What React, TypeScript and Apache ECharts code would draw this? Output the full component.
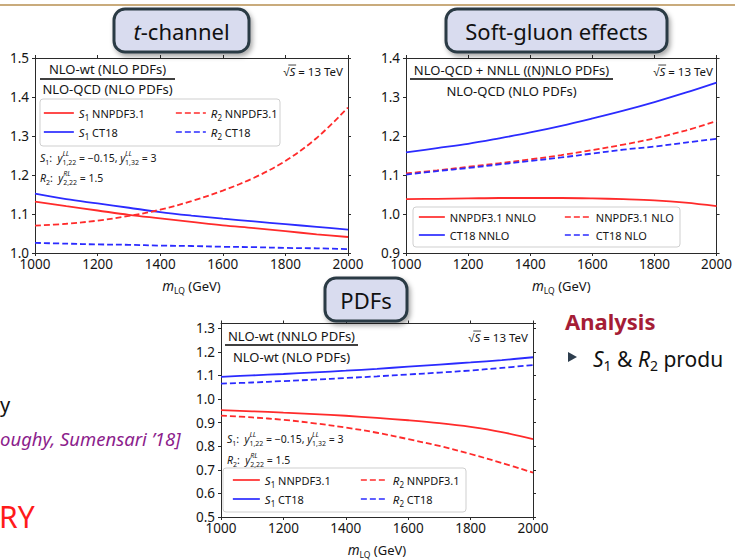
import React, { useEffect, useRef } from 'react';
import * as echarts from 'echarts';

// ---------------- data ----------------
const massGeV = [1000, 1100, 1200, 1300, 1400, 1500, 1600, 1700, 1800, 1900, 2000];
const xTickLabels = [1000, 1200, 1400, 1600, 1800, 2000];

// t-channel : NLO-wt (NLO PDFs) / NLO-QCD (NLO PDFs)
const tS1NNPDF = [1.132, 1.120, 1.109, 1.098, 1.089, 1.080, 1.071, 1.064, 1.056, 1.048, 1.041];
const tS1CT18 = [1.152, 1.138, 1.127, 1.116, 1.105, 1.096, 1.088, 1.081, 1.074, 1.067, 1.060];
const tR2NNPDF = [1.070, 1.075, 1.083, 1.095, 1.111, 1.133, 1.160, 1.193, 1.236, 1.295, 1.373];
const tR2CT18 = [1.026, 1.024, 1.022, 1.021, 1.019, 1.018, 1.016, 1.015, 1.013, 1.012, 1.010];

// soft-gluon : NLO-QCD + NNLL ((N)NLO PDFs) / NLO-QCD (NLO PDFs)
const sgNNPDFNNLO = [1.038, 1.039, 1.040, 1.041, 1.041, 1.041, 1.040, 1.038, 1.035, 1.029, 1.020];
const sgCT18NNLO = [1.158, 1.169, 1.180, 1.194, 1.209, 1.226, 1.245, 1.265, 1.287, 1.311, 1.337];
const sgNNPDFNLO = [1.104, 1.112, 1.121, 1.130, 1.140, 1.151, 1.164, 1.178, 1.194, 1.214, 1.238];
const sgCT18NLO = [1.101, 1.110, 1.118, 1.127, 1.136, 1.145, 1.155, 1.165, 1.173, 1.183, 1.193];

// PDFs : NLO-wt (NNLO PDFs) / NLO-wt (NLO PDFs)
const pS1NNPDF = [0.953, 0.948, 0.942, 0.936, 0.929, 0.920, 0.910, 0.898, 0.882, 0.860, 0.830];
const pS1CT18 = [1.094, 1.100, 1.106, 1.113, 1.120, 1.128, 1.137, 1.146, 1.155, 1.165, 1.177];
const pR2NNPDF = [0.930, 0.922, 0.912, 0.897, 0.879, 0.857, 0.830, 0.801, 0.767, 0.729, 0.688];
const pR2CT18 = [1.065, 1.070, 1.076, 1.082, 1.089, 1.096, 1.104, 1.112, 1.121, 1.132, 1.144];

const panelTitles = ['t-channel', 'Soft-gluon effects', 'PDFs'];
const yRanges = [
  { min: 1.0, max: 1.5 },
  { min: 0.9, max: 1.4 },
  { min: 0.5, max: 1.32 },
];

// ---------------- style ----------------
const FONT = '"Noto Sans", sans-serif';
const RED = '#ff2b2b';
const BLUE = '#2b2bff';
const INK = '#151515';
const DASH = [6, 3];

const legendLabels: Record<string, string> = {
  t_s1n: '{i|S}{s|1} NNPDF3.1',
  t_s1c: '{i|S}{s|1} CT18',
  t_r2n: '{i|R}{s|2} NNPDF3.1',
  t_r2c: '{i|R}{s|2} CT18',
  g_nn: 'NNPDF3.1 NNLO',
  g_cn: 'CT18 NNLO',
  g_nl: 'NNPDF3.1 NLO',
  g_cl: 'CT18 NLO',
  p_s1n: '{i|S}{s|1} NNPDF3.1',
  p_s1c: '{i|S}{s|1} CT18',
  p_r2n: '{i|R}{s|2} NNPDF3.1',
  p_r2c: '{i|R}{s|2} CT18',
};

let measureCtx: CanvasRenderingContext2D | null = null;
function tw(text: string, size: number, style = 'normal', weight = 'normal') {
  if (!measureCtx) measureCtx = document.createElement('canvas').getContext('2d');
  measureCtx!.font = `${style} ${weight} ${size}px "Noto Sans"`;
  return measureCtx!.measureText(text).width;
}

const grids = [
  { left: 35, top: 58, width: 313, height: 195 },
  { left: 406, top: 58, width: 312, height: 195 },
  { left: 221, top: 323.5, width: 312, height: 194.5 },
];

function pairs(ys: number[]) {
  return massGeV.map((m, i) => [m, ys[i]]);
}

const App: React.FC = () => {
  const ref = useRef<HTMLDivElement>(null);

  useEffect(() => {
    if (!ref.current) return;
    const chart = echarts.init(ref.current, undefined, { renderer: 'svg' });

    const axisLine = { show: true, lineStyle: { color: '#2a2a2a', width: 1 } };
    const tick = { show: true, length: 3, lineStyle: { color: '#2a2a2a' } };
    const xAxis: any[] = [];
    const yAxis: any[] = [];
    grids.forEach((g, k) => {
      xAxis.push({
        type: 'value', gridIndex: k, min: 1000, max: 2000, interval: 200, position: 'bottom',
        axisLine, axisTick: tick, splitLine: { show: false },
        axisLabel: { show: true, margin: 4, color: INK, fontSize: 13.5, fontFamily: FONT,
          formatter: (v: number) => (xTickLabels.includes(v) ? String(v) : '') },
        name: '{m|m}{s|LQ} (GeV)', nameLocation: 'middle', nameGap: 24,
        nameTextStyle: {
          color: INK, fontSize: 13, fontFamily: FONT, lineHeight: 18,
          rich: {
            m: { fontStyle: 'italic', fontSize: 13.5, fontFamily: FONT, lineHeight: 18, color: INK },
            s: { fontSize: 8.5, fontFamily: FONT, lineHeight: 10, verticalAlign: 'bottom', color: INK },
          },
        },
      });
      xAxis.push({
        type: 'value', gridIndex: k, min: 1000, max: 2000, interval: 200, position: 'top',
        axisLine, axisTick: tick, splitLine: { show: false }, axisLabel: { show: false },
      });
      const yr = yRanges[k];
      const yl = (v: number) => (Math.abs(v * 10 - Math.round(v * 10)) < 0.01 ? v.toFixed(1) : '');
      yAxis.push({
        type: 'value', gridIndex: k, min: yr.min, max: yr.max, interval: 0.1, position: 'left',
        axisLine, axisTick: tick, splitLine: { show: false },
        axisLabel: { show: true, margin: 6, color: INK, fontSize: 13.5, fontFamily: FONT, formatter: yl,
          showMaxLabel: k !== 2 },
      });
      yAxis.push({
        type: 'value', gridIndex: k, min: yr.min, max: yr.max, interval: 0.1, position: 'right',
        axisLine, axisTick: tick, splitLine: { show: false }, axisLabel: { show: false },
      });
    });

    const mk = (name: string, k: number, ys: number[], color: string, dashed: boolean) => ({
      type: 'line', name, xAxisIndex: 2 * k, yAxisIndex: 2 * k, data: pairs(ys),
      smooth: 0.35, symbol: 'none', showSymbol: false, z: 2,
      lineStyle: { color, width: 1.8, type: dashed ? DASH : 'solid' },
      itemStyle: { color },
    });

    const series = [
      mk('t_s1n', 0, tS1NNPDF, RED, false),
      mk('t_s1c', 0, tS1CT18, BLUE, false),
      mk('t_r2n', 0, tR2NNPDF, RED, true),
      mk('t_r2c', 0, tR2CT18, BLUE, true),
      mk('g_nn', 1, sgNNPDFNNLO, RED, false),
      mk('g_cn', 1, sgCT18NNLO, BLUE, false),
      mk('g_nl', 1, sgNNPDFNLO, RED, true),
      mk('g_cl', 1, sgCT18NLO, BLUE, true),
      mk('p_s1n', 2, pS1NNPDF, RED, false),
      mk('p_s1c', 2, pS1CT18, BLUE, false),
      mk('p_r2n', 2, pR2NNPDF, RED, true),
      mk('p_r2c', 2, pR2CT18, BLUE, true),
    ];

    const legTextStyle = {
      color: INK, fontSize: 11, fontFamily: FONT, lineHeight: 16,
      rich: {
        i: { fontStyle: 'italic', fontSize: 11.5, fontFamily: FONT, lineHeight: 16, color: INK },
        s: { fontSize: 8, fontFamily: FONT, lineHeight: 9, verticalAlign: 'bottom', color: INK },
      },
    };
    const leg = (data: string[], left: number, top: number, itemWidth: number, itemGap: number) => ({
      data, left, top, itemWidth, itemHeight: 12, itemGap, orient: 'vertical', padding: 0,
      selectedMode: false, z: 6, textStyle: legTextStyle,
      itemStyle: { opacity: 0, color: 'transparent', borderWidth: 0 },
      lineStyle: { width: 1.7 },
      formatter: (n: string) => legendLabels[n] || n,
    });
    const legend = [
      leg(['t_s1n', 't_s1c'], 43, 105, 30, 3),
      leg(['t_r2n', 't_r2c'], 175, 105, 30, 3),
      leg(['g_nn', 'g_cn'], 418, 209, 26, 2),
      leg(['g_nl', 'g_cl'], 564, 209, 26, 2),
      leg(['p_s1n', 'p_s1c'], 232, 472, 27, 3),
      leg(['p_r2n', 'p_r2c'], 360, 472, 27, 3),
    ];

    // ---------- graphic ----------
    const els: any[] = [];
    // slide header rule
    els.push({ type: 'rect', shape: { x: 0, y: 4, width: 735, height: 2 }, style: { fill: '#c9ab7c' }, z: 1 });

    // legend boxes
    const box = (x: number, y: number, w: number, h: number) =>
      els.push({ type: 'rect', shape: { x, y, width: w, height: h, r: 3 },
        style: { fill: '#ffffff', stroke: '#cfcfcf', lineWidth: 1 }, z: 3 });
    box(40, 99, 240, 47);
    box(413, 207, 267, 40);
    box(223, 468, 243, 44);

    // fractions
    const frac = (num: string, den: string, x1: number, x2: number, ly: number, ny: number, dy: number) => {
      const cx = (x1 + x2) / 2;
      els.push({ type: 'text', x: cx, y: ny, z: 4,
        style: { text: num, fontSize: 13, fontFamily: FONT, fill: INK, align: 'center', verticalAlign: 'middle' } });
      els.push({ type: 'line', shape: { x1, y1: ly, x2, y2: ly }, style: { stroke: '#000', lineWidth: 1.3 }, z: 4 });
      els.push({ type: 'text', x: cx, y: dy, z: 4,
        style: { text: den, fontSize: 13, fontFamily: FONT, fill: INK, align: 'center', verticalAlign: 'middle' } });
    };
    frac('NLO-wt (NLO PDFs)', 'NLO-QCD (NLO PDFs)', 40, 175, 79, 69, 89);
    frac('NLO-QCD + NNLL ((N)NLO PDFs)', 'NLO-QCD (NLO PDFs)', 410, 613, 79, 70, 91);
    frac('NLO-wt (NNLO PDFs)', 'NLO-wt (NLO PDFs)', 225, 358, 345, 336, 357);

    // sqrt(S) = 13 TeV
    const sqrtS = (rightX: number, cy: number) => {
      const fs = 11.5;
      const wR = tw('√', fs), wS = tw('S', fs, 'italic'), wRest = tw(' = 13 TeV', fs);
      const x0 = rightX - (wR + wS + wRest);
      els.push({ type: 'text', x: x0, y: cy, z: 4,
        style: { text: '{n|√}{i|S}{n| = 13 TeV}', fontSize: fs, fontFamily: FONT, fill: INK, align: 'left', verticalAlign: 'middle',
          rich: { n: { fontSize: fs, fontFamily: FONT, color: INK }, i: { fontSize: fs, fontStyle: 'italic', fontFamily: FONT, color: INK } } } });
      els.push({ type: 'line', z: 4, shape: { x1: x0 + wR - 1.2, y1: cy - fs * 0.52, x2: x0 + wR + wS + 0.8, y2: cy - fs * 0.52 },
        style: { stroke: INK, lineWidth: 0.8 } });
    };
    sqrtS(343, 71);
    sqrtS(713, 71);
    sqrtS(528, 337);

    // coupling annotations
    const annRich = {
      n: { fontSize: 10.5, fontFamily: FONT, lineHeight: 16.5, color: INK },
      i: { fontStyle: 'italic', fontSize: 10.5, fontFamily: FONT, lineHeight: 16.5, color: INK },
      s: { fontSize: 7, fontFamily: FONT, lineHeight: 7, verticalAlign: 'bottom', color: INK },
      p: { fontSize: 7, fontStyle: 'italic', fontFamily: FONT, lineHeight: 7, verticalAlign: 'top', width: 0, color: INK },
    };
    const ann = (x: number, y1: number, y2: number) => {
      els.push({ type: 'text', x, y: y1, z: 4,
        style: { text: '{i|S}{s|1}{n|:\u00a0\u00a0}{i|y}{p|LL}{s|1,22}{n|\u00a0= −0.15,\u00a0}{i|y}{p|LL}{s|1,32}{n|\u00a0= 3}', fontSize: 10.5, fontFamily: FONT,
          lineHeight: 16.5, fill: INK, align: 'left', verticalAlign: 'middle', rich: annRich } });
      els.push({ type: 'text', x, y: y2, z: 4,
        style: { text: '{i|R}{s|2}{n|:\u00a0\u00a0}{i|y}{p|RL}{s|2,22}{n|\u00a0= 1.5}', fontSize: 10.5, fontFamily: FONT,
          lineHeight: 16.5, fill: INK, align: 'left', verticalAlign: 'middle', rich: annRich } });
    };
    ann(40, 158, 178);
    ann(227, 439, 460);

    // panel title boxes
    const titleBox = (x: number, y: number, w: number, h: number, text: string) => {
      els.push({ type: 'rect', shape: { x, y, width: w, height: h, r: 11 }, z: 20,
        style: { fill: '#d9dcef', stroke: '#2c3a44', lineWidth: 3,
          shadowBlur: 5, shadowOffsetX: 2, shadowOffsetY: 3, shadowColor: 'rgba(0,0,0,0.35)' } });
      els.push({ type: 'text', x: x + w / 2, y: y + h / 2, z: 21,
        style: { text, fontSize: 22, fontFamily: FONT, fill: '#111', align: 'center', verticalAlign: 'middle',
          rich: { i: { fontStyle: 'italic', fontSize: 22, fontFamily: FONT, color: '#111' } } } });
    };
    titleBox(114, 9, 135, 43, '{i|t}-' + panelTitles[0].slice(2));
    titleBox(446, 9, 221, 43, panelTitles[1]);
    titleBox(325, 278, 82, 43, panelTitles[2]);

    // surrounding slide text
    els.push({ type: 'text', x: 0, y: 404, z: 4,
      style: { text: 'y', fontSize: 20, fontFamily: FONT, fill: '#111', align: 'left', verticalAlign: 'middle' } });
    els.push({ type: 'text', x: 0, y: 438, z: 4,
      style: { text: 'oughy, Sumensari ’18]', fontSize: 18.5, fontStyle: 'italic', fontFamily: FONT, fill: '#8c1d8c', align: 'left', verticalAlign: 'middle' } });
    els.push({ type: 'text', x: -1, y: 516, z: 4,
      style: { text: 'RY', fontSize: 30, fontFamily: FONT, fill: '#ff1a1a', align: 'left', verticalAlign: 'middle' } });
    els.push({ type: 'text', x: 565, y: 321, z: 4,
      style: { text: 'Analysis', fontSize: 22, fontWeight: 'bold', fontFamily: FONT, fill: '#a51d36', align: 'left', verticalAlign: 'middle' } });
    els.push({ type: 'polygon', shape: { points: [[568, 352], [568, 362], [577, 357]] }, style: { fill: '#2e3e4e' }, z: 4 });
    els.push({ type: 'text', x: 593, y: 359, z: 4,
      style: { text: '{i|S}{s|1} & {i|R}{s|2} produ', fontSize: 21, fontFamily: FONT, fill: '#111', lineHeight: 26,
        align: 'left', verticalAlign: 'middle',
        rich: {
          i: { fontStyle: 'italic', fontSize: 21, fontFamily: FONT, lineHeight: 26, color: '#111' },
          s: { fontSize: 14, fontFamily: FONT, lineHeight: 15, verticalAlign: 'bottom', color: '#111' },
        } } });

    chart.setOption({
      animation: false,
      backgroundColor: '#ffffff',
      grid: grids.map((g) => ({ ...g, containLabel: false, show: false })),
      xAxis,
      yAxis,
      legend,
      series,
      graphic: { elements: els },
    });

    return () => chart.dispose();
  }, []);

  return (
    <div
      ref={ref}
      style={{ position: 'fixed', left: 0, top: 0, width: 735, height: 560, background: '#fff' }}
    />
  );
};

export default App;
